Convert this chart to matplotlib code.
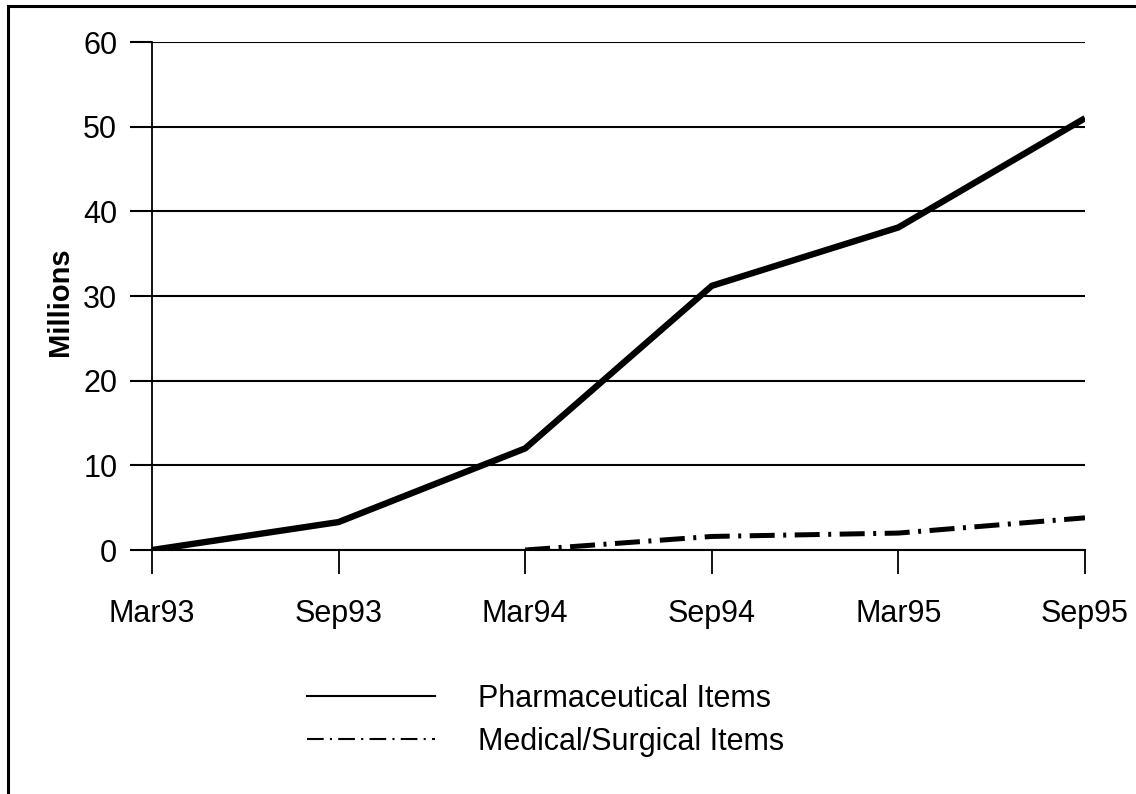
import matplotlib.pyplot as plt
from matplotlib.lines import Line2D
from matplotlib.patches import Rectangle

plt.rcParams['font.family'] = ['Liberation Sans', 'DejaVu Sans']

periods = ['Mar93', 'Sep93', 'Mar94', 'Sep94', 'Mar95', 'Sep95']
pharm = [0, 3.3, 12, 31.2, 38.1, 51]
med_periods = ['Mar94', 'Sep94', 'Mar95', 'Sep95']
med = [0, 1.6, 2.0, 3.8]

fig = plt.figure(figsize=(11.36, 7.94), dpi=100)
ax = fig.add_axes([152/1136, 1 - 550/794, 933/1136, 508/794])

x = list(range(len(periods)))
xm = [periods.index(p) for p in med_periods]
ax.plot(x, pharm, color='black', lw=4.6, solid_capstyle='butt', zorder=3)
ax.plot(xm, med, color='black', lw=3.6, dashes=(5, 1.7, 0.6, 1.7), zorder=3)

ax.set_xlim(0, 5)
ax.set_ylim(0, 60)
ax.set_yticks(range(0, 61, 10))
ax.set_xticks(x)
ax.set_xticklabels(periods)
ax.yaxis.grid(True, color='black', lw=1.5)
ax.set_axisbelow(True)
for s in ['top', 'right']:
    ax.spines[s].set_visible(False)
ax.spines['left'].set_linewidth(1.3)
ax.spines['bottom'].set_linewidth(1.5)
ax.tick_params(axis='y', direction='out', length=16, width=1.5, pad=9, labelsize=22)
ax.tick_params(axis='x', direction='out', length=17, width=1.3, pad=18, labelsize=22)

fig.text(60/1136, 1 - 302/794, 'Millions', rotation=90, fontsize=21,
         fontweight='bold', ha='center', va='center')

handles = [Line2D([], [], color='black', lw=1.5),
           Line2D([], [], color='black', lw=1.5, dashes=(8, 3, 1, 3))]
fig.legend(handles, ['Pharmaceutical Items', 'Medical/Surgical Items'],
           loc='upper left', bbox_to_anchor=(307/1136, 1 - 684/794),
           frameon=False, fontsize=22, handlelength=4.2, handletextpad=1.4,
           labelspacing=0.42, borderpad=0, borderaxespad=0)

fig.patches.append(Rectangle((8/1136, -0.05), 1.1, 1 - 6/794 + 0.05,
                             transform=fig.transFigure, fill=False,
                             edgecolor='black', lw=2.2))

fig.savefig('out.png', dpi=100)
